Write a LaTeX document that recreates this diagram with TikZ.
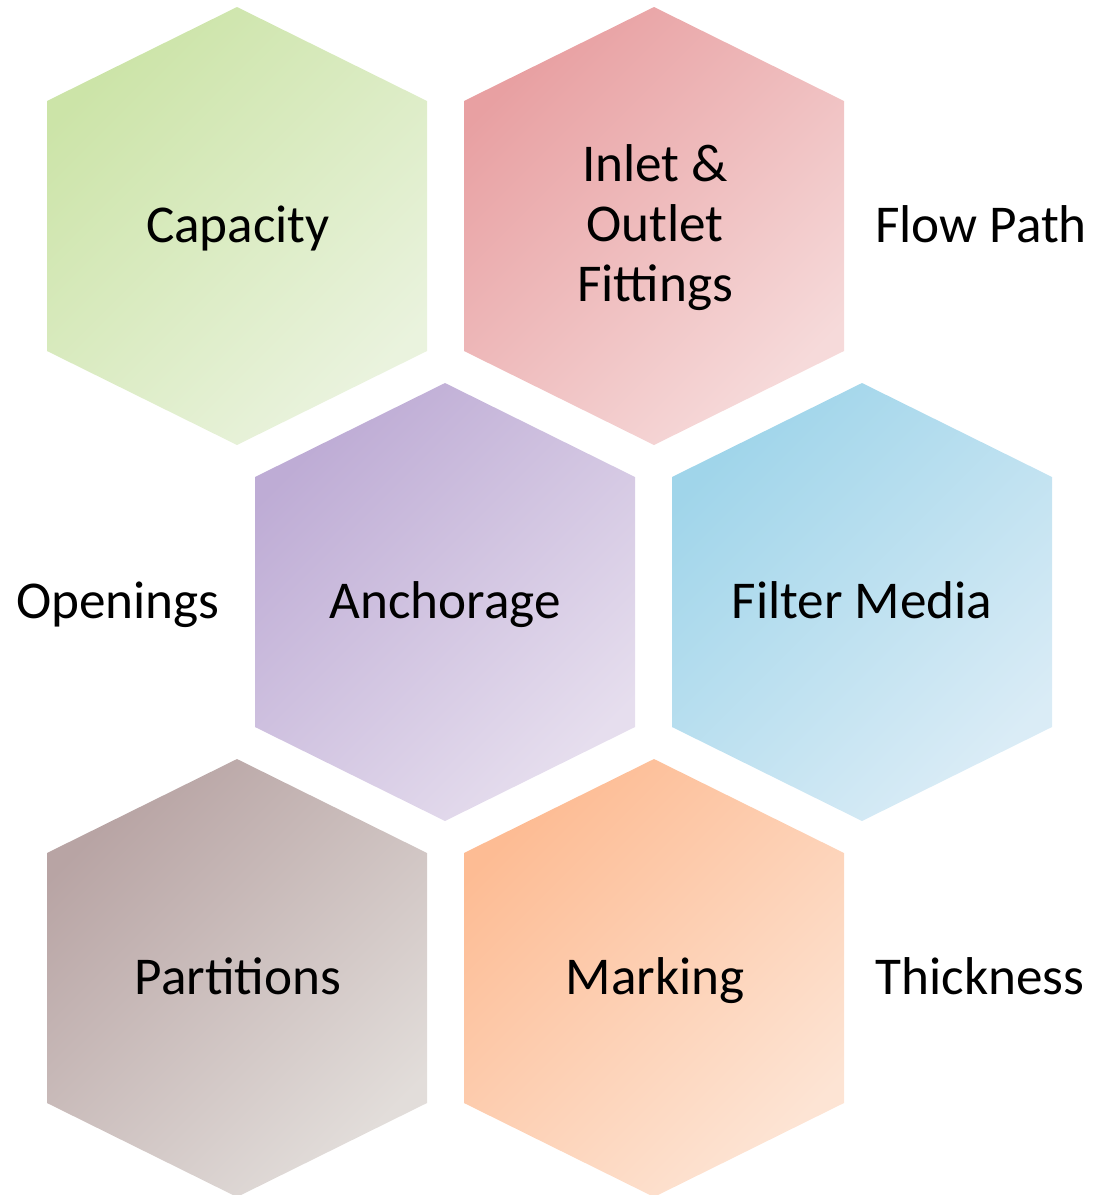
\documentclass[tikz,border=0pt]{standalone}
\usepackage{fontspec}
\setmainfont{Carlito}
\definecolor{capA}{RGB}{204,228,168}
\definecolor{capB}{RGB}{234,243,222}
\definecolor{inlA}{RGB}{232,160,162}
\definecolor{inlB}{RGB}{246,218,218}
\definecolor{ancA}{RGB}{190,172,213}
\definecolor{ancB}{RGB}{230,222,238}
\definecolor{filA}{RGB}{160,213,234}
\definecolor{filB}{RGB}{218,236,246}
\definecolor{parA}{RGB}{184,164,164}
\definecolor{parB}{RGB}{226,221,218}
\definecolor{marA}{RGB}{253,188,148}
\definecolor{marB}{RGB}{253,228,212}
\tikzset{
  cell/.style={shading angle=45},
  lbl/.style={font=\fontsize{26.6}{30}\selectfont, align=center, inner sep=0pt, anchor=base}
}
\begin{document}
\begin{tikzpicture}[x=0.5pt,y=-0.5pt]
    \useasboundingbox (0,0) rectangle (1095,1195);
    % hexagons
    \shade[top color=capA, bottom color=capB, cell, shift={(237,226)}] (0,-219) -- (190,-125) -- (190,125) -- (0,219) -- (-190,125) -- (-190,-125) -- cycle;
    \shade[top color=inlA, bottom color=inlB, cell, shift={(654,226)}] (0,-219) -- (190,-125) -- (190,125) -- (0,219) -- (-190,125) -- (-190,-125) -- cycle;
    \shade[top color=ancA, bottom color=ancB, cell, shift={(445,602)}] (0,-219) -- (190,-125) -- (190,125) -- (0,219) -- (-190,125) -- (-190,-125) -- cycle;
    \shade[top color=filA, bottom color=filB, cell, shift={(862,602)}] (0,-219) -- (190,-125) -- (190,125) -- (0,219) -- (-190,125) -- (-190,-125) -- cycle;
    \shade[top color=parA, bottom color=parB, cell, shift={(237,978)}] (0,-219) -- (190,-125) -- (190,125) -- (0,219) -- (-190,125) -- (-190,-125) -- cycle;
    \shade[top color=marA, bottom color=marB, cell, shift={(654,978)}] (0,-219) -- (190,-125) -- (190,125) -- (0,219) -- (-190,125) -- (-190,-125) -- cycle;
    % labels
    \node[lbl] (capacity) at (238,242) {Capacity};
    \node[lbl] (inlet) at (655,301) {Inlet \&\\Outlet\\Fittings};
    \node[lbl] (anchorage) at (445,618) {Anchorage};
    \node[lbl] (filter) at (862,618) {Filter Media};
    \node[lbl] (partitions) at (238,994) {Partitions};
    \node[lbl] (marking) at (655,994) {Marking};
    \node[lbl] (flowpath) at (981,242) {Flow Path};
    \node[lbl] (openings) at (118,618) {Openings};
    \node[lbl] (thickness) at (980,994) {Thickness};
\end{tikzpicture}
\end{document}
